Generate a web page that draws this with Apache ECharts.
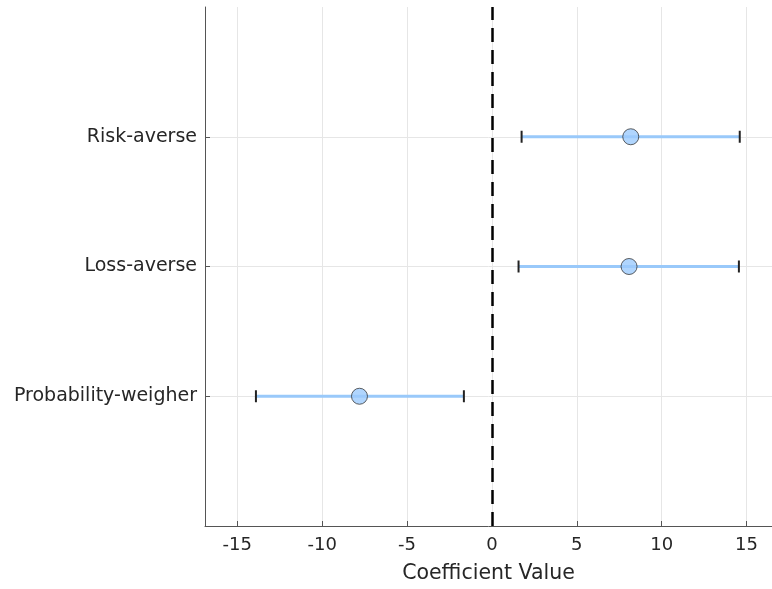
<!DOCTYPE html>
<html>
<head>
<meta charset="utf-8">
<script src="https://cdn.jsdelivr.net/npm/echarts@6/dist/echarts.min.js"></script>
<style>
  html, body { margin: 0; padding: 0; background: #fff; }
  #chart { width: 772px; height: 589px; }
</style>
</head>
<body>
<div id="chart"></div>
<script>
// Groups, listed bottom to top along the y axis
const groups = ['Probability-weigher', 'Loss-averse', 'Risk-averse'];
// Point estimates and confidence bounds for each group
const estimates = [-7.8, 8.08, 8.18];
const lowerBounds = [-13.9, 1.57, 1.75];
const upperBounds = [-1.65, 14.55, 14.6];
// Tick values on the coefficient axis
const xTicks = [-15, -10, -5, 0, 5, 10, 15];

const FONT = '"DejaVu Sans", "Liberation Sans", Arial, sans-serif';
const yPos = groups.map((g, i) => i + 1);

const chart = echarts.init(document.getElementById('chart'), null, { renderer: 'canvas' });

const intervalData = groups.map((g, i) => [lowerBounds[i], upperBounds[i], yPos[i]]);
const pointData = groups.map((g, i) => [estimates[i], yPos[i]]);

chart.setOption({
  animation: false,
  backgroundColor: '#ffffff',
  grid: { left: 205, right: 0, top: 7, bottom: 60, containLabel: false },
  xAxis: {
    type: 'value',
    min: -16.9,
    max: 16.5,
    name: 'Coefficient Value',
    nameLocation: 'middle',
    nameGap: 37,
    nameTextStyle: { fontFamily: FONT, fontSize: 20.5, color: '#262626' },
    axisLine: { show: true, onZero: false, lineStyle: { color: '#555555', width: 1 } },
    axisTick: { show: true, inside: true, length: 5, customValues: xTicks, lineStyle: { color: '#555555' } },
    axisLabel: { customValues: xTicks, fontFamily: FONT, fontSize: 18, color: '#262626', margin: 10 },
    splitLine: { show: true, customValues: xTicks, lineStyle: { color: '#e6e6e6', width: 1 } }
  },
  yAxis: {
    type: 'value',
    min: 0,
    max: 4,
    interval: 1,
    axisLine: { show: true, onZero: false, lineStyle: { color: '#555555', width: 1 } },
    axisTick: { show: true, inside: true, length: 5, customValues: yPos, lineStyle: { color: '#555555' } },
    axisLabel: {
      customValues: yPos,
      fontFamily: FONT, fontSize: 19, color: '#262626', margin: 8,
      formatter: v => groups[Math.round(v) - 1] || ''
    },
    splitLine: { show: true, customValues: yPos, lineStyle: { color: '#e6e6e6', width: 1 } }
  },
  series: [
    {
      type: 'custom',
      name: 'interval',
      data: intervalData,
      encode: { x: [0, 1], y: 2 },
      z: 3,
      renderItem: function (params, api) {
        const lo = api.coord([api.value(0), api.value(2)]);
        const hi = api.coord([api.value(1), api.value(2)]);
        const cap = 6;
        return {
          type: 'group',
          children: [
            { type: 'line', shape: { x1: lo[0], y1: lo[1], x2: hi[0], y2: hi[1] },
              style: { stroke: '#99c9fa', lineWidth: 3 } },
            { type: 'line', shape: { x1: lo[0], y1: lo[1] - cap, x2: lo[0], y2: lo[1] + cap },
              style: { stroke: '#222222', lineWidth: 2 } },
            { type: 'line', shape: { x1: hi[0], y1: hi[1] - cap, x2: hi[0], y2: hi[1] + cap },
              style: { stroke: '#222222', lineWidth: 2 } }
          ]
        };
      }
    },
    {
      type: 'scatter',
      name: 'estimate',
      data: pointData,
      symbol: 'circle',
      symbolSize: 16,
      z: 4,
      itemStyle: { color: '#9ccbfd', borderColor: '#3a3a3a', borderWidth: 1 },
      markLine: {
        silent: true,
        symbol: ['none', 'none'],
        label: { show: false },
        lineStyle: { color: '#000000', width: 2.5, type: [14, 8] },
        data: [{ xAxis: 0 }]
      }
    }
  ]
});
</script>
</body>
</html>
